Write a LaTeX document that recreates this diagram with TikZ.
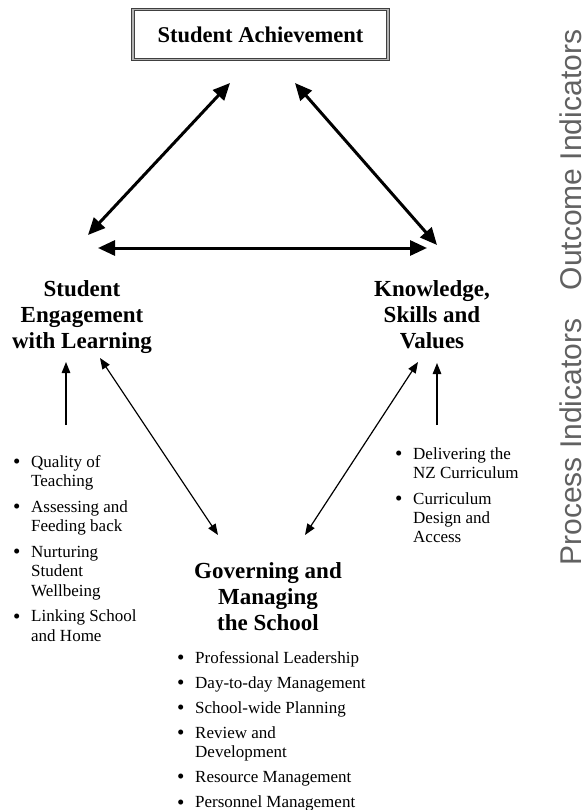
\documentclass[tikz,border=0pt]{standalone}
\usepackage{fontspec}
\setmainfont{Liberation Serif}
\newfontfamily\sidefont{Liberation Sans}
\usetikzlibrary{arrows.meta}

% bullet list laid out as a two-column table
\newcommand\bulletlist[1]{\begin{tabular}{@{}p{18pt}@{}l@{}}#1\end{tabular}}
\newcommand\bul{\raisebox{-1.2pt}{\fontsize{21}{19}\selectfont\textbullet}}
\newcommand\itemgap{\\[6.6pt]}
\newcommand\smallgap{\\[5.9pt]}

\begin{document}
\begin{tikzpicture}[x=1pt,y=-1pt,
  heading/.style={font=\bfseries\fontsize{23}{26}\selectfont, align=center, inner sep=0pt},
  bigarrow/.style={line width=3pt, {Triangle[length=17pt,width=15pt]}-{Triangle[length=17pt,width=15pt]}},
  thinarrow/.style={line width=1.2pt, -{Triangle[length=11pt,width=8.5pt]}},
  thindouble/.style={line width=1.2pt, {Triangle[length=11pt,width=8.5pt]}-{Triangle[length=11pt,width=8.5pt]}},
  sidelabel/.style={font=\sidefont\fontsize{30}{30}\selectfont, text=black!62, rotate=90,
    inner sep=0pt, text height=22pt, text depth=0pt},
  listbox/.style={font=\fontsize{17}{19.2}\selectfont, anchor=north west, inner sep=0pt}]
\useasboundingbox (0,0) rectangle (586,810);

% outcome nodes
\node[draw=black!75, double=black!30, double distance=1.6pt, line width=0.8pt,
      minimum width=255pt, minimum height=50pt,
      font=\bfseries\fontsize{22.5}{26}\selectfont] (ach) at (260.5,34.5) {Student Achievement};
\node[heading] (eng) at (82,317) {Student\\Engagement\\with Learning};
\node[heading] (ksv) at (432,314.5) {Knowledge,\\Skills and\\Values};
\node[heading] (gov) at (268,597) {Governing and\\Managing\\the School};

% process indicator lists
\node[listbox] (englist) at (13,454) {\bulletlist{
  \bul & Quality of\\ & Teaching\itemgap
  \bul & Assessing and\\ & Feeding back\itemgap
  \bul & Nurturing\\ & Student\\ & Wellbeing\itemgap
  \bul & Linking School\\ & and Home}};
\node[listbox] (ksvlist) at (395,445.5) {\bulletlist{
  \bul & Delivering the\\ & NZ Curriculum\itemgap
  \bul & Curriculum\\ & Design and\\ & Access}};
\node[listbox] (govlist) at (177,649.5) {\bulletlist{
  \bul & Professional Leadership\smallgap
  \bul & Day-to-day Management\smallgap
  \bul & School-wide Planning\smallgap
  \bul & Review and\\ & Development\smallgap
  \bul & Resource Management\smallgap
  \bul & Personnel Management}};

% side captions
\node[sidelabel] (outcome) at (570,160) {Outcome Indicators};
\node[sidelabel] (process) at (570,442) {Process Indicators};

% arrow end points
\coordinate (achL) at (230,83);
\coordinate (achR) at (295,83);
\coordinate (engT) at (88,235);
\coordinate (engR) at (98,248);
\coordinate (ksvT) at (437,245);
\coordinate (ksvL) at (427,248);
\coordinate (engB) at (66,362);
\coordinate (engListT) at (66,425);
\coordinate (ksvB) at (437,363);
\coordinate (ksvListT) at (437,425);
\coordinate (engD) at (100,358);
\coordinate (ksvD) at (418,362);
\coordinate (govL) at (218,535);
\coordinate (govR) at (305,535);

% outcome triangle
\draw[bigarrow] (engT) -- (achL);
\draw[bigarrow] (achR) -- (ksvT);
\draw[bigarrow] (engR) -- (ksvL);

% process links
\draw[thinarrow] (engListT) -- (engB);
\draw[thinarrow] (ksvListT) -- (ksvB);
\draw[thindouble] (engD) -- (govL);
\draw[thindouble] (ksvD) -- (govR);
\end{tikzpicture}
\end{document}
